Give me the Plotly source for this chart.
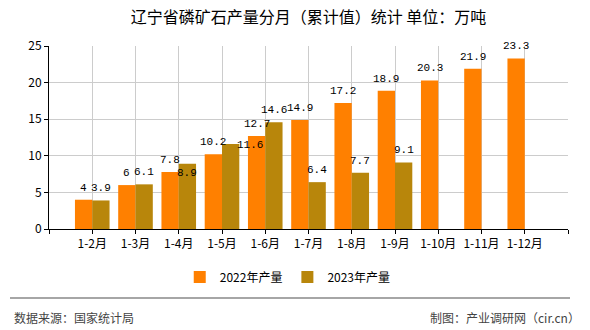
import plotly.graph_objects as go

categories = ["1-2月", "1-3月", "1-4月", "1-5月", "1-6月", "1-7月", "1-8月", "1-9月", "1-10月", "1-11月", "1-12月"]
values_2022 = [4, 6, 7.8, 10.2, 12.7, 14.9, 17.2, 18.9, 20.3, 21.9, 23.3]
values_2023 = [3.9, 6.1, 8.9, 11.6, 14.6, 6.4, 7.7, 9.1]
series_names = ["2022年产量", "2023年产量"]
y_ticks = [0, 5, 10, 15, 20, 25]

FONT = "Noto Sans CJK SC, DejaVu Sans, sans-serif"
LABEL_FONT = "Liberation Mono, DejaVu Sans Mono, monospace"
COLORS = ["#FF8000", "#B8860B"]
BAR_OFFSET = 0.2  # half of a bar width in category units

# pixel nudges for labels that the original chart moved to avoid collisions
label_nudges = {(1, 2): (0, -21), (1, 3): (19, -13)}

x_pos = list(range(1, len(categories) + 1))

fig = go.Figure()
for s, vals in enumerate([values_2022, values_2023]):
    fig.add_trace(go.Bar(
        x=x_pos[:len(vals)], y=vals, name=series_names[s],
        marker=dict(color=COLORS[s], line=dict(width=0)),
        hoverinfo="x+y",
    ))
    for i, v in enumerate(vals):
        dx, dy = label_nudges.get((s, i), (0, 0))
        fig.add_annotation(
            x=x_pos[i] + (BAR_OFFSET if s == 1 else -BAR_OFFSET), y=v,
            xref="x", yref="y", text=f"{v:g}", showarrow=False,
            xanchor="center", yanchor="middle", yshift=12 + dy, xshift=dx,
            font=dict(family=LABEL_FONT, size=11, color="#000000"),
        )

tickvals = list(range(0, len(categories) + 2))
ticktext = [""] + categories + [""]

fig.update_layout(
    width=590, height=330,
    margin=dict(l=49, r=22, t=46, b=101),
    paper_bgcolor="white", plot_bgcolor="white",
    barmode="group", bargap=0.2, bargroupgap=0,
    font=dict(family=FONT, size=12, color="#000000"),
    title=dict(text="辽宁省磷矿石产量分月（累计值）统计 单位：万吨",
               x=0.5, xanchor="center", xref="paper", y=1 - 17 / 330, yanchor="middle",
               font=dict(family=FONT, size=16, color="#000000")),
    legend=dict(orientation="h", x=0.46, xanchor="center", y=-0.262, yanchor="middle",
                font=dict(family=FONT, size=12, color="#000000"),
                itemwidth=30, traceorder="normal"),
)

fig.update_xaxes(
    range=[0, len(categories) + 1], tickvals=tickvals, ticktext=ticktext,
    showgrid=True, gridcolor="#CCCCCC", gridwidth=1,
    showline=True, linecolor="#000000", linewidth=1,
    ticks="outside", ticklen=4, tickcolor="#000000",
    tickfont=dict(family=FONT, size=12, color="#000000"),
    zeroline=False, fixedrange=True,
)
fig.update_yaxes(
    range=[0, 25], tickvals=y_ticks,
    showgrid=True, gridcolor="#CCCCCC", gridwidth=1,
    showline=True, linecolor="#000000", linewidth=1,
    ticks="outside", ticklen=4, tickcolor="#000000",
    tickfont=dict(family=FONT, size=12, color="#000000"),
    zeroline=False, fixedrange=True,
)

fig.add_shape(type="line", xref="paper", yref="paper",
              x0=-39 / 519, x1=(570 - 49) / 519,
              y0=(229 - 298) / 183, y1=(229 - 298) / 183,
              line=dict(color="#888888", width=1.5))
fig.add_annotation(text="数据来源：国家统计局", xref="paper", yref="paper",
                   x=-37 / 519, xanchor="left", y=(229 - 317) / 183, yanchor="middle",
                   showarrow=False, font=dict(family=FONT, size=12, color="#444444"))
fig.add_annotation(text="制图：产业调研网（cir.cn）", xref="paper", yref="paper",
                   x=(582 - 49) / 519, xanchor="right", y=(229 - 317) / 183, yanchor="middle",
                   showarrow=False, font=dict(family=FONT, size=12, color="#444444"))

fig.write_html("out.html")
